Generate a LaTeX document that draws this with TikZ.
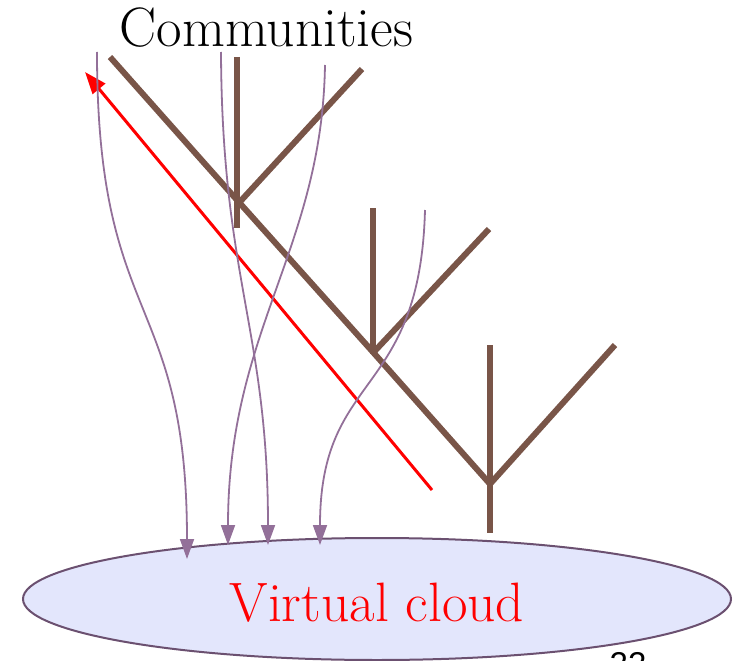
\documentclass[tikz,border=0pt]{standalone}
\usepackage{fontspec}
\newfontfamily\numfont{Liberation Sans}
\usetikzlibrary{arrows.meta,shapes.geometric}
\definecolor{treebrown}{RGB}{121,85,72}
\definecolor{flowpurple}{RGB}{147,112,153}
\definecolor{cloudfill}{RGB}{227,230,252}
\definecolor{cloudline}{RGB}{107,80,112}
\tikzset{
  branch/.style={draw=treebrown,line width=6pt},
  flow/.style={draw=flowpurple,line width=1.8pt,-{Triangle[width=14pt,length=20pt]}},
  back/.style={draw=red,line width=3pt,-{Triangle[width=16pt,length=22pt]}},
  bigtext/.style={font=\fontsize{55.5}{66}\selectfont,inner sep=0pt}
}
\begin{document}
\begin{tikzpicture}[x=1pt,y=-1pt]
\useasboundingbox (0,0) rectangle (742,661);
% cloud
\node[draw=cloudline,fill=cloudfill,line width=2pt,ellipse,minimum width=708pt,minimum height=122pt,inner sep=0pt] (cloud) at (377,599) {};
\node[bigtext,text=red,anchor=base] (cloudlabel) at (377,621) {Virtual cloud};
\node[bigtext,anchor=base] (comm) at (266.5,47) {Communities};
\node[font=\numfont\fontsize{33}{40}\selectfont,anchor=base,inner sep=0pt] (page) at (628,675) {22};
% tree
\coordinate (t0) at (110,57);
\coordinate (j1) at (237,200);
\coordinate (j2) at (372,351);
\coordinate (j3) at (490,484);
\draw[branch] (t0) -- (j1) -- (j2) -- (j3);
\draw[branch] (237,57) -- (237,228);
\draw[branch] (237,205) -- (362,69);
\draw[branch] (373,208) -- (373,354);
\draw[branch] (372,354) -- (489,229);
\draw[branch] (490,345) -- (490,533);
\draw[branch] (j3) -- (615,345);
% red back arrow
\coordinate (rs) at (432,490);
\coordinate (re) at (85,72);
\draw[back] (rs) -- (re);
% flows
\coordinate (f1s) at (97,52);   \coordinate (f1e) at (187,559);
\coordinate (f2s) at (221,52);  \coordinate (f2e) at (268,545);
\coordinate (f3s) at (325,65);  \coordinate (f3e) at (228,545);
\coordinate (f4s) at (425,210); \coordinate (f4e) at (320,545);
\draw[flow] (f1s) .. controls (97,330) and (187,290) .. (f1e);
\draw[flow] (f2s) .. controls (222,280) and (268,330) .. (f2e);
\draw[flow] (f3s) .. controls (322,250) and (228,330) .. (f3e);
\draw[flow] (f4s) .. controls (420,400) and (320,370) .. (f4e);
\end{tikzpicture}
\end{document}
